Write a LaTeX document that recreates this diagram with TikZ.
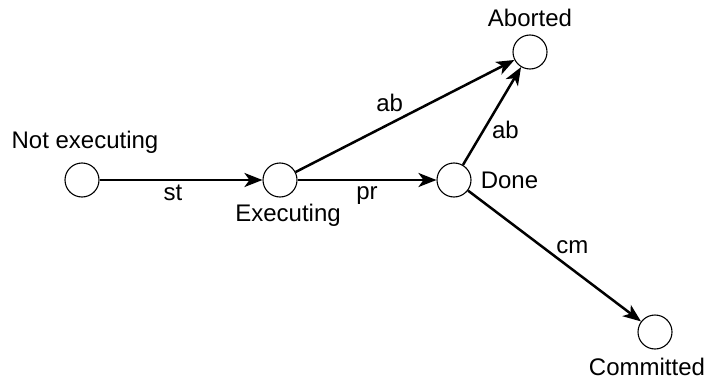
\documentclass[tikz,border=0pt]{standalone}
\usepackage{fontspec}
\setmainfont{Liberation Sans}
\usetikzlibrary{arrows.meta, positioning}

\begin{document}
\begin{tikzpicture}[x=1pt, y=-1pt,
        state/.style={draw, circle, minimum size=34pt, inner sep=0pt, line width=1.1pt},
        statename/.style={inner sep=0pt, font=\fontsize{24}{28}\selectfont},
        edgelab/.style={inner sep=0pt, font=\fontsize{24}{28}\selectfont},
        trans/.style={line width=2.5pt, -{Stealth[length=18pt, width=14pt, inset=5pt]}}]

            \useasboundingbox (0,0) rectangle (708,385);

            \node[state] (NE) at (82,180) {};
            \node[state] (EX) at (280,180) {};
            \node[state] (DN) at (454,180) {};
            \node[state] (AB) at (530,52) {};
            \node[state] (CM) at (655,332) {};

            \node[statename, above=9pt of NE, xshift=3pt] (NEl) {Not executing};
            \node[statename, below=6pt of EX, xshift=8pt] (EXl) {Executing};
            \node[statename, right=9pt of DN] (DNl) {Done};
            \node[statename, above=8pt of AB] (ABl) {Aborted};
            \node[statename, below=8pt of CM, xshift=-8pt] (CMl) {Committed};

            \draw[trans] (NE) -- node[edgelab, below=4pt, pos=0.45] (st) {st} (EX);
            \draw[trans] (EX) -- node[edgelab, below=5pt, pos=0.5] (pr) {pr} (DN);
            \draw[trans] (EX) -- node[edgelab, above=11pt, pos=0.43] (ab1) {ab} (AB);
            \draw[trans] (DN) -- node[edgelab, right=7pt, pos=0.36] (ab2) {ab} (AB);
            \draw[trans] (DN) -- node[edgelab, above right=1pt, pos=0.5] (cm) {cm} (CM);

        \end{tikzpicture}
\end{document}
